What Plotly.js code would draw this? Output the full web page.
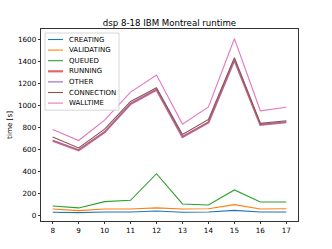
<!DOCTYPE html>
<html><head><meta charset="utf-8">
<script src="https://cdn.plot.ly/plotly-3.0.1.min.js"></script>
<style>html,body{margin:0;padding:0;background:#fff;}#chart{width:332px;height:249px;}</style>
</head><body><div id="chart"></div>
<script>
const runs = [8, 9, 10, 11, 12, 13, 14, 15, 16, 17];
const seriesNames = ["CREATING", "VALIDATING", "QUEUED", "RUNNING", "OTHER", "CONNECTION", "WALLTIME"];
const creating   = [27, 24, 30, 30, 39, 27, 30, 45, 30, 30];
const validating = [57, 42, 57, 57, 67, 57, 60, 97, 57, 60];
const queued     = [85, 67, 124, 136, 378, 103, 94, 230, 121, 121];
const running    = [678, 592, 755, 1012, 1142, 712, 845, 1412, 822, 846];
const other      = [680, 594, 757, 1014, 1144, 714, 847, 1414, 824, 848];
const connection = [712, 612, 784, 1035, 1160, 734, 872, 1434, 836, 860];
const walltime   = [780, 680, 865, 1120, 1276, 829, 986, 1606, 950, 983];
const seriesValues = [creating, validating, queued, running, other, connection, walltime];
const colors = ["#1f77b4", "#ff7f0e", "#2ca02c", "rgba(214,39,40,0.7)", "#9467bd", "#8c564b", "#e377c2"];
const widths = [1.1, 1.1, 1.1, 2.2, 1.1, 1.1, 1.1];

const traces = seriesNames.map((n, i) => ({
  x: runs, y: seriesValues[i], name: n, type: "scatter", mode: "lines",
  line: {color: colors[i], width: widths[i]}, showlegend: false
}));

// manual legend (matplotlib style), positioned in plot-area (paper) fractions
const ML = 41, MR = 34, MT = 29, MB = 28, W = 332, H = 249;
const PW = W - ML - MR, PH = H - MT - MB;
const px = v => (v - ML) / PW, py = v => 1 - (v - MT) / PH;
const shapes = [];
const annotations = [];
const lgX0 = 45, lgY0 = 33, lgW = 74, lgRow = 10.6;
shapes.push({type: "rect", xref: "paper", yref: "paper", x0: px(lgX0), x1: px(lgX0 + lgW), y0: py(lgY0), y1: py(lgY0 + 7 * lgRow + 3),
  line: {color: "#cccccc", width: 0.8}, fillcolor: "rgba(255,255,255,0.8)", layer: "above"});
seriesNames.forEach((n, i) => {
  const yc = lgY0 + 6.5 + i * lgRow;
  shapes.push({type: "line", xref: "paper", yref: "paper", x0: px(48), x1: px(63), y0: py(yc), y1: py(yc),
    line: {color: colors[i], width: widths[i]}, layer: "above"});
  annotations.push({xref: "paper", yref: "paper", x: px(67), y: py(yc), text: n, showarrow: false,
    xanchor: "left", yanchor: "middle", font: {family: "DejaVu Sans", size: 7, color: "#000"}});
});

const layout = {
  width: W, height: H,
  margin: {l: ML, r: MR, t: MT, b: MB},
  paper_bgcolor: "#fff", plot_bgcolor: "#fff",
  font: {family: "DejaVu Sans", size: 7.2, color: "#000"},
  title: {text: "dsp 8-18 IBM Montreal runtime", font: {family: "DejaVu Sans", size: 8.6, color: "#000"},
    x: 0.5, xref: "paper", xanchor: "center", y: 1 - 22.5 / 249, yanchor: "middle"},
  xaxis: {range: [7.55, 17.45], tickmode: "array", tickvals: runs, ticktext: runs.map(String),
    showgrid: false, zeroline: false, showline: true, mirror: true, linecolor: "#000", linewidth: 0.8,
    ticks: "outside", ticklen: 2.5, tickwidth: 0.8, tickcolor: "#000", tickfont: {size: 7.2}},
  yaxis: {range: [-52, 1694], tick0: 0, dtick: 200,
    showgrid: false, zeroline: false, showline: true, mirror: true, linecolor: "#000", linewidth: 0.8,
    ticks: "outside", ticklen: 2.5, tickwidth: 0.8, tickcolor: "#000", tickfont: {size: 7.2},
    title: {text: "time [s]", font: {size: 7.2}, standoff: 4}},
  shapes: shapes,
  annotations: annotations,
  showlegend: false
};
Plotly.newPlot("chart", traces, layout, {staticPlot: true, displayModeBar: false});
</script></body></html>
